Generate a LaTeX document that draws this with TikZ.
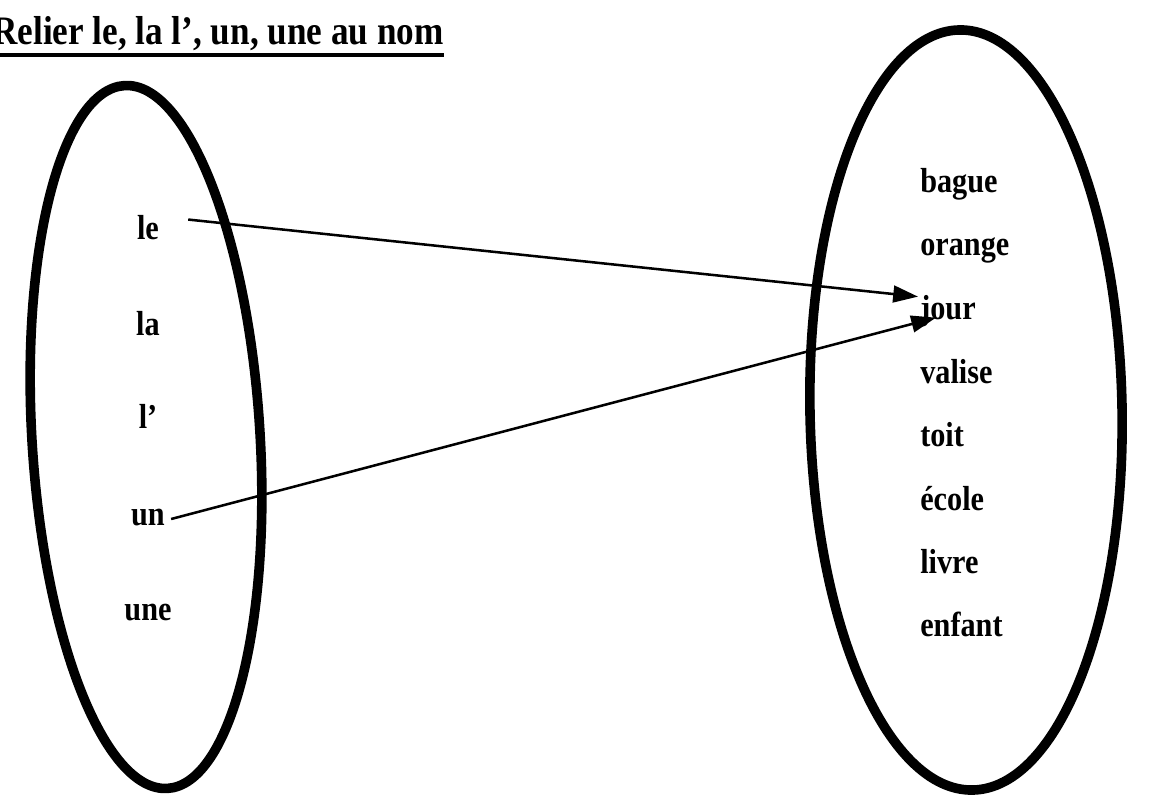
\documentclass[tikz,border=0pt]{standalone}
\usepackage{fontspec}
\setmainfont{Liberation Serif}
\usetikzlibrary{shapes.geometric, arrows.meta}

\begin{document}
\begin{tikzpicture}[
    x=0.025cm, y=-0.025cm,
    ring/.style={draw, ellipse, line width=0.24cm, inner sep=0pt},
    word/.style={inner sep=0pt, yscale=1.15, transform shape, font=\fontsize{21.5}{26}\selectfont\bfseries},
    rword/.style={word, anchor=base west},
    lword/.style={word, anchor=base},
    arr/.style={-{Triangle[length=0.62cm, width=0.42cm]}, line width=1.8pt},
]
\useasboundingbox (0,0) rectangle (1170,807);

\node[anchor=base west, inner sep=0pt, yscale=1.15, transform shape, font=\fontsize{25}{30}\selectfont\bfseries] (title) at (-8,45) {Relier le, la l', un, une au nom};
\draw[line width=2.4pt] ([yshift=-7pt]title.base west) -- ([yshift=-7pt]title.base east);

\node[ring, rotate=3.5, minimum width=5.7cm, minimum height=17.6cm] (dets) at (146,437) {};
\node[ring, rotate=1, minimum width=7.8cm, minimum height=19cm] (noms) at (966,410) {};

\node[lword] (le) at (148,240) {le};
\node[lword] (la) at (148,335) {la};
\node[lword] (lap) at (148,428) {l'};
\node[lword] (un) at (148,525) {un};
\node[lword] (une) at (148,620) {une};

\node[rword] (bague) at (920,193) {bague};
\node[rword] (orange) at (920,256) {orange};
\node[rword] (jour) at (920,320) {jour};
\node[rword] (valise) at (920,383) {valise};
\node[rword] (toit) at (920,446) {toit};
\node[rword] (ecole) at (920,510) {école};
\node[rword] (livre) at (920,573) {livre};
\node[rword] (enfant) at (920,636) {enfant};

\draw[arr] ([shift={(29,4)}]le.north east) -- ([shift={(-2,-15)}]jour.west);
\draw[arr] ([shift={(6,2)}]un.east) -- ([shift={(16,6)}]jour.west);

\end{tikzpicture}
\end{document}
